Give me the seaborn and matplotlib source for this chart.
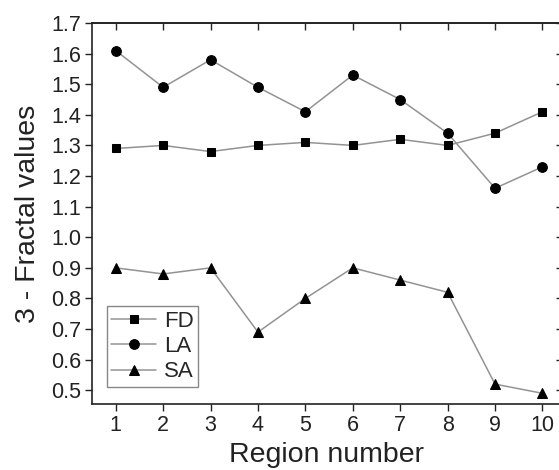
import numpy as np
import pandas as pd
import seaborn as sns
import matplotlib.pyplot as plt

# -----------------------------
# Data
# -----------------------------
regions = [1, 2, 3, 4, 5, 6, 7, 8, 9, 10]
fd_values = [1.29, 1.30, 1.28, 1.30, 1.31, 1.30, 1.32, 1.30, 1.34, 1.41]
la_values = [1.61, 1.49, 1.58, 1.49, 1.41, 1.53, 1.45, 1.34, 1.16, 1.23]
sa_values = [0.90, 0.88, 0.90, 0.69, 0.80, 0.90, 0.86, 0.82, 0.52, 0.49]
series_names = ["FD", "LA", "SA"]
y_ticks = [0.5, 0.6, 0.7, 0.8, 0.9, 1.0, 1.1, 1.2, 1.3, 1.4, 1.5, 1.6, 1.7]

# -----------------------------
# Style
# -----------------------------
sns.set_style("ticks")
plt.rcParams["font.family"] = ["Liberation Sans", "DejaVu Sans"]

fig = plt.figure(figsize=(5.59, 4.70), dpi=100)
ax = fig.add_axes([0.1646, 0.1404, 0.838, 0.8106])

series = {"FD": (fd_values, "s", 5.5), "LA": (la_values, "o", 7), "SA": (sa_values, "^", 7.5)}
for name in series_names:
    vals, mk, ms = series[name]
    sns.lineplot(x=regions, y=vals, ax=ax, color="#939393", linewidth=1.1,
                 marker=mk, markersize=ms, markerfacecolor="black",
                 markeredgecolor="black", label=name)

ax.set_xlim(0.5, 10.38)
ax.set_ylim(0.455, 1.7)
ax.set_xticks(regions)
ax.set_yticks(y_ticks)
ax.set_yticklabels([f"{t:.1f}" for t in y_ticks])

ax.tick_params(axis="both", direction="out", length=5, width=1, labelsize=15.5, colors="#222222")
ax.tick_params(axis="x", pad=3)
ax.tick_params(axis="y", pad=3)

# mirrored ticks on top and right, pointing inwards
top = ax.secondary_xaxis("top")
top.set_xticks(regions)
top.tick_params(direction="in", length=5, width=1, labeltop=False)
right = ax.secondary_yaxis("right")
right.set_yticks(y_ticks)
right.tick_params(direction="in", length=3, width=1, labelright=False)
right.spines["right"].set_visible(False)
ax.spines["right"].set_visible(False)

for side in ["left", "bottom", "top"]:
    ax.spines[side].set_linewidth(1.2)
    ax.spines[side].set_color("#222222")
top.spines["top"].set_linewidth(1.2)

ax.set_xlabel("Region number", fontsize=20.5, color="#222222", labelpad=4)
ax.set_ylabel("3 - Fractal values", fontsize=20.5, color="#222222", labelpad=7)

leg = ax.legend(loc="lower left", bbox_to_anchor=(0.032, 0.045), fontsize=16,
                handlelength=2.0, handletextpad=0.35, labelspacing=0.2,
                borderpad=0.2, borderaxespad=0, fancybox=False, framealpha=1)
leg.get_frame().set_edgecolor("#888888")
leg.get_frame().set_linewidth(1)

plt.savefig("out.png", dpi=100)
